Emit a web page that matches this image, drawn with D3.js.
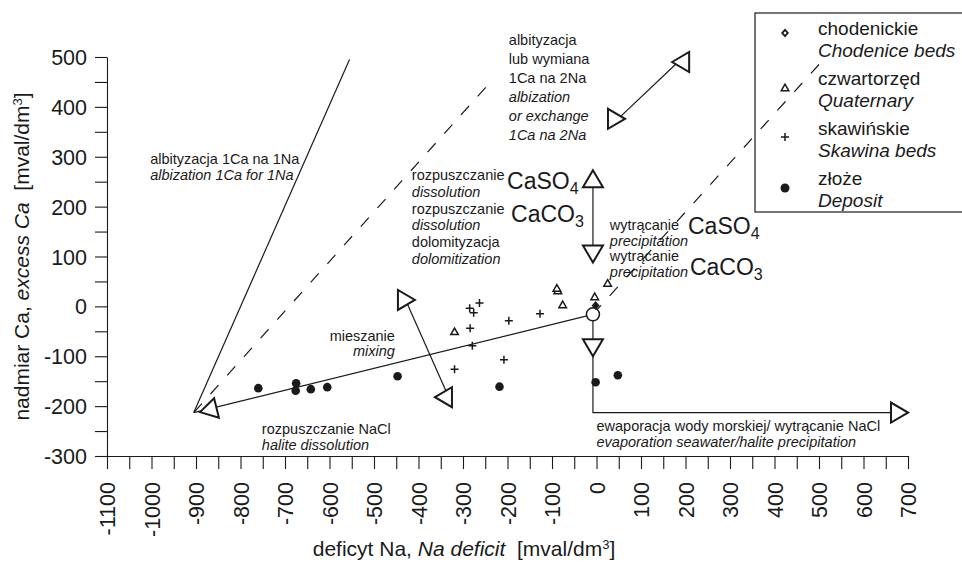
<!DOCTYPE html>
<html>
<head>
<meta charset="utf-8">
<script src="https://cdn.jsdelivr.net/npm/d3@7/dist/d3.min.js"></script>
<style>
body { margin: 0; background: #fff; }
svg text { font-family: "Liberation Sans", Arial, sans-serif; fill: #1a1a1a; }
</style>
</head>
<body>
<script>
// tick labels
var xTickLabels = [-1100, -1000, -900, -800, -700, -600, -500, -400, -300, -200, -100, 0, 100, 200, 300, 400, 500, 600, 700];
var yTickLabels = [-300, -200, -100, 0, 100, 200, 300, 400, 500];

// samples [Na deficit, excess Ca]
var chodenice = [[-2, 2]];
var quaternary = [[-319, -51], [-76, 3], [25, 46], [-4, 19], [-87, 31], [-89, 36]];
var skawina = [[-285, -4], [-263, 7], [-276, -13], [-284, -44], [-197, -29], [-127, -15], [-279, -79], [-208, -107], [-319, -126]];
var deposit = [[-760, -164], [-675, -154], [-676, -169], [-642, -166], [-605, -162], [-447, -140], [-218, -161], [-2, -152], [48, -138]];
var seawater = [-8, -16];

var seriesPl = ["chodenickie", "czwartorzęd", "skawińskie", "złoże"];
var seriesEn = ["Chodenice beds", "Quaternary", "Skawina beds", "Deposit"];

// process lines
var refLines = [
  {pts: [[-905, -213], [-555, 495]], dash: false},
  {pts: [[-905, -213], [-245, 443]], dash: true},
  {pts: [seawater, [500, 485]], dash: true},
  {pts: [[-905, -213], seawater], dash: false},
  {pts: [seawater, [-8, -213], [700, -213]], dash: false},
  {pts: [[-8, 273], [-8, 88]], dash: false},
  {pts: [[-431, 17], [-337, -172]], dash: false},
  {pts: [[46, 374], [188, 494]], dash: false}
];

// arrow heads: tip, and either a point it comes from or a screen angle
var arrowHeads = [
  {x: -891, y: -212, fx: -8, fy: -16},
  {x: 700, y: -213, fx: -8, fy: -213},
  {x: -8, y: 273, fx: -8, fy: 88},
  {x: -8, y: 88, fx: -8, fy: 273},
  {x: -8, y: -100, fx: -8, fy: -16},
  {x: -408, y: 13, angle: 0},
  {x: -363, y: -182, angle: 180},
  {x: 170, y: 490, angle: 180},
  {x: 64, y: 376, angle: 0}
];

var notes = [
  {x: -1003, y: 284.5, lh: 16, lines: [["albityzacja 1Ca na 1Na", 0], ["albization 1Ca for 1Na", 1]]},
  {x: -197, y: 524, lh: 19, lines: [["albityzacja", 0], ["lub wymiana", 0], ["1Ca na 2Na", 0], ["albization", 1], ["or exchange", 1], ["1Ca na 2Na", 1]]},
  {x: -415, y: 253.4, lh: 16.8, lines: [["rozpuszczanie", 0], ["dissolution", 1], ["rozpuszczanie", 0], ["dissolution", 1], ["dolomityzacja", 0], ["dolomitization", 1]]},
  {x: 30, y: 153.2, lh: 15.7, lines: [["wytrącanie", 0], ["precipitation", 1], ["wytrącanie", 0], ["precipitation", 1]]},
  {x: -453, y: -69.4, lh: 15, anchor: "end", lines: [["mieszanie", 0], ["mixing", 1]]},
  {x: -752, y: -256, lh: 16, lines: [["rozpuszczanie NaCl", 0], ["halite dissolution", 1]]},
  {x: 0, y: -250, lh: 15.5, lines: [["ewaporacja wody morskiej/ wytrącanie NaCl", 0], ["evaporation seawater/halite precipitation", 1]]}
];

var formulas = [
  {x: -201, y: 235.4, t: "CaSO", s: "4"},
  {x: -192, y: 168.2, t: "CaCO", s: "3"},
  {x: 205.6, y: 145.2, t: "CaSO", s: "4"},
  {x: 210, y: 63, t: "CaCO", s: "3"}
];

var W = 962, H = 562;
var svg = d3.select("body").append("svg")
  .attr("width", W)
  .attr("height", H);

var x = d3.scaleLinear().domain([-1100, 700]).range([107, 908]);
var y = d3.scaleLinear().domain([-300, 500]).range([456, 57]);

function every50(labels) {
  var out = [];
  labels.forEach(function(v, i) {
    out.push(v);
    if (i < labels.length - 1) out.push(v + 50);
  });
  return out;
}
function fmt(d) { return d % 100 === 0 ? String(d) : ""; }

var gx = svg.append("g")
  .attr("transform", "translate(0," + y(-300) + ")")
  .call(d3.axisBottom(x).tickValues(every50(xTickLabels)).tickSizeInner(13).tickSizeOuter(0).tickFormat(fmt));
gx.selectAll("text")
  .attr("transform", "rotate(-90)")
  .attr("text-anchor", "end")
  .attr("x", -26)
  .attr("y", 0)
  .attr("dy", "0.35em");

var gy = svg.append("g")
  .attr("transform", "translate(" + x(-1100) + ",0)")
  .call(d3.axisLeft(y).tickValues(every50(yTickLabels)).tickSizeInner(12).tickSizeOuter(0).tickPadding(8).tickFormat(fmt));
gy.selectAll("text").attr("dy", "0.35em");

[gx, gy].forEach(function(g) {
  g.attr("font-family", null).attr("font-size", null);
  g.selectAll("text").style("font-size", "21.5px").attr("fill", "#1a1a1a");
  g.selectAll("line, path").attr("stroke", "#1a1a1a").attr("stroke-width", 1.1);
});

// axis titles
var xt = svg.append("text")
  .attr("x", 464).attr("y", 556)
  .attr("text-anchor", "middle")
  .style("font-size", "21px")
  .style("white-space", "pre");
xt.append("tspan").text("deficyt Na, ");
xt.append("tspan").style("font-style", "italic").text("Na deficit");
xt.append("tspan").text("  [mval/dm");
xt.append("tspan").attr("dy", -7).style("font-size", "13px").text("3");
xt.append("tspan").attr("dy", 7).text("]");

var yt = svg.append("text")
  .attr("transform", "translate(29," + ((y(-300) + y(500)) / 2) + ") rotate(-90)")
  .attr("text-anchor", "middle")
  .style("font-size", "21px")
  .style("white-space", "pre");
yt.append("tspan").text("nadmiar Ca, ");
yt.append("tspan").style("font-style", "italic").text("excess Ca");
yt.append("tspan").text("  [mval/dm");
yt.append("tspan").attr("dy", -7).style("font-size", "13px").text("3");
yt.append("tspan").attr("dy", 7).text("]");

// process lines
var line = d3.line().x(function(d) { return x(d[0]); }).y(function(d) { return y(d[1]); });
svg.append("g").selectAll("path")
  .data(refLines)
  .enter().append("path")
  .attr("d", function(d) { return line(d.pts); })
  .attr("fill", "none")
  .attr("stroke", "#1a1a1a")
  .attr("stroke-width", 1.2)
  .attr("stroke-dasharray", function(d) { return d.dash ? "12,13" : null; });

function triangle(a) {
  var tx = x(a.x), ty = y(a.y);
  var ang = a.angle !== undefined ? a.angle * Math.PI / 180
    : Math.atan2(ty - y(a.fy), tx - x(a.fx));
  var len = 17, hw = 10;
  var bx = tx - len * Math.cos(ang), by = ty - len * Math.sin(ang);
  var px = -Math.sin(ang) * hw, py = Math.cos(ang) * hw;
  return "M" + tx + "," + ty + "L" + (bx + px) + "," + (by + py) + "L" + (bx - px) + "," + (by - py) + "Z";
}

svg.append("g").selectAll("path")
  .data(arrowHeads)
  .enter().append("path")
  .attr("d", triangle)
  .attr("fill", "#fff")
  .attr("stroke", "#1a1a1a")
  .attr("stroke-width", 2)
  .attr("stroke-linejoin", "miter");

// markers
var plusPath = "M-4,0H4M0,-4V4";
var triPath = "M0,-3.8L3.8,2.8L-3.8,2.8Z";
var diaPath = "M0,-4.5L4,0L0,4.5L-4,0Z";

svg.append("g").selectAll("path")
  .data(skawina)
  .enter().append("path")
  .attr("transform", function(d) { return "translate(" + x(d[0]) + "," + y(d[1]) + ")"; })
  .attr("d", plusPath)
  .attr("stroke", "#1a1a1a")
  .attr("stroke-width", 1.5);

svg.append("g").selectAll("path")
  .data(quaternary)
  .enter().append("path")
  .attr("transform", function(d) { return "translate(" + x(d[0]) + "," + y(d[1]) + ")"; })
  .attr("d", triPath)
  .attr("fill", "#fff")
  .attr("stroke", "#1a1a1a")
  .attr("stroke-width", 1.5);

svg.append("g").selectAll("circle")
  .data(deposit)
  .enter().append("circle")
  .attr("cx", function(d) { return x(d[0]); })
  .attr("cy", function(d) { return y(d[1]); })
  .attr("r", 4.3)
  .attr("fill", "#1a1a1a");

svg.append("circle")
  .attr("cx", x(seawater[0]))
  .attr("cy", y(seawater[1]))
  .attr("r", 6.5)
  .attr("fill", "#fff")
  .attr("stroke", "#1a1a1a")
  .attr("stroke-width", 1.5);

svg.append("g").selectAll("path")
  .data(chodenice)
  .enter().append("path")
  .attr("transform", function(d) { return "translate(" + x(d[0]) + "," + y(d[1]) + ")"; })
  .attr("d", diaPath)
  .attr("fill", "#1a1a1a");

// annotations
notes.forEach(function(n) {
  var t = svg.append("text")
    .attr("x", x(n.x))
    .attr("y", y(n.y))
    .attr("text-anchor", n.anchor || "start")
    .style("font-size", "14.5px");
  n.lines.forEach(function(l, i) {
    t.append("tspan")
      .attr("x", x(n.x))
      .attr("dy", i === 0 ? 0 : n.lh)
      .style("font-style", l[1] ? "italic" : "normal")
      .text(l[0]);
  });
});

formulas.forEach(function(f) {
  var t = svg.append("text")
    .attr("x", x(f.x))
    .attr("y", y(f.y))
    .style("font-size", "23px");
  t.append("tspan").text(f.t);
  t.append("tspan").attr("dy", 5).style("font-size", "16px").text(f.s);
});

// legend
var lg = svg.append("g").attr("transform", "translate(755,13)");
lg.append("rect")
  .attr("width", 260)
  .attr("height", 199)
  .attr("fill", "none")
  .attr("stroke", "#1a1a1a")
  .attr("stroke-width", 1.2);

var symY = [20, 75, 124, 175];
var lgMarks = [
  function(g) { g.append("path").attr("d", diaPath).attr("fill", "#1a1a1a");
                g.append("path").attr("d", "M0,-1.8L1.6,0L0,1.8L-1.6,0Z").attr("fill", "#fff"); },
  function(g) { g.append("path").attr("d", triPath).attr("fill", "#fff").attr("stroke", "#1a1a1a").attr("stroke-width", 1.5); },
  function(g) { g.append("path").attr("d", plusPath).attr("stroke", "#1a1a1a").attr("stroke-width", 1.5); },
  function(g) { g.append("circle").attr("r", 4.5).attr("fill", "#1a1a1a"); }
];
seriesPl.forEach(function(name, i) {
  var g = lg.append("g").attr("transform", "translate(30," + symY[i] + ")");
  lgMarks[i](g);
  lg.append("text").attr("x", 63).attr("y", 22 + i * 50).style("font-size", "19px").text(name);
  lg.append("text").attr("x", 63).attr("y", 44 + i * 50).style("font-size", "19px").style("font-style", "italic").text(seriesEn[i]);
});
</script>
</body>
</html>
